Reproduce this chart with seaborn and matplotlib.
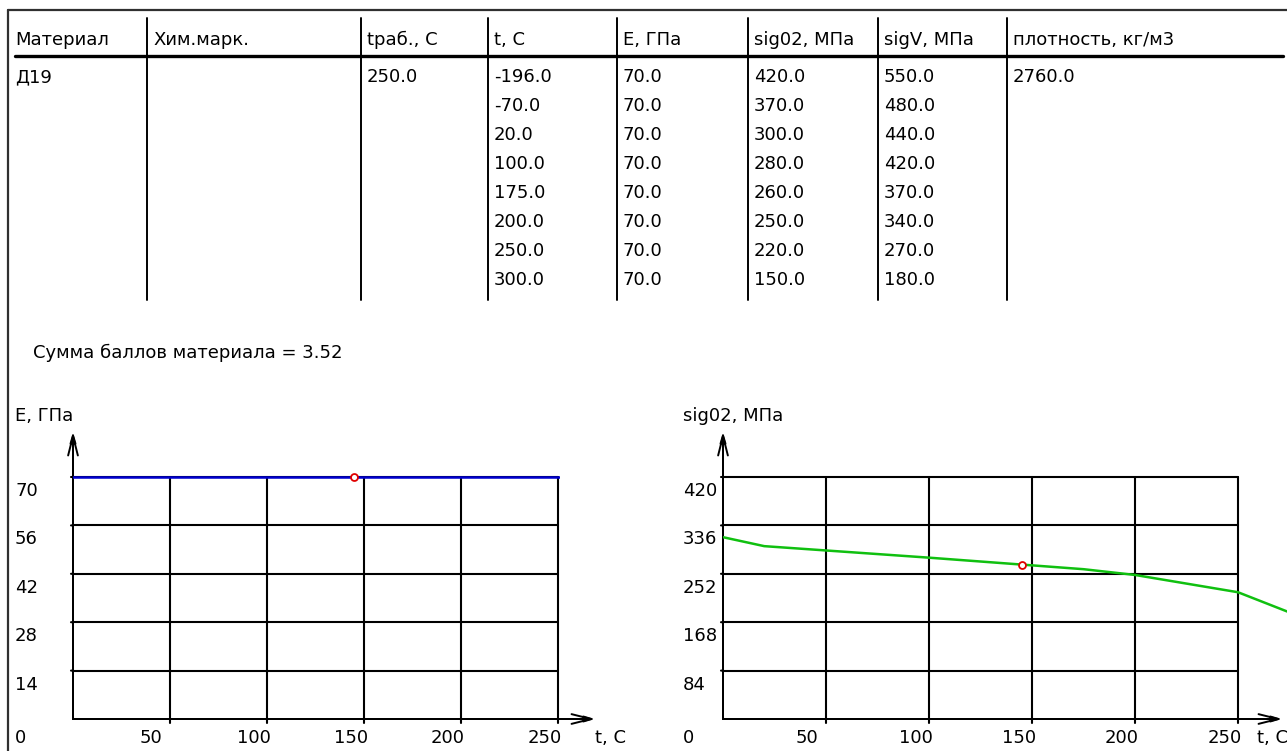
import matplotlib
matplotlib.use('Agg')
import matplotlib.pyplot as plt
import seaborn as sns
from matplotlib.transforms import ScaledTranslation, Bbox, TransformedBbox

# material card
material = 'Д19'
chem_mark = ''
t_work = 250.0
density = 2760.0
score = 3.52
headers = ['Материал', 'Хим.марк.', 'tраб., С', 't, С', 'E, ГПа',
           'sig02, МПа', 'sigV, МПа', 'плотность, кг/м3']
temps = [-196.0, -70.0, 20.0, 100.0, 175.0, 200.0, 250.0, 300.0]
E_gpa = [70.0, 70.0, 70.0, 70.0, 70.0, 70.0, 70.0, 70.0]
sig02 = [420.0, 370.0, 300.0, 280.0, 260.0, 250.0, 220.0, 150.0]
sigV = [550.0, 480.0, 440.0, 420.0, 370.0, 340.0, 270.0, 180.0]

# current point (red circle) and chart scales
cur_t = 145
cur_E = 70
cur_sig02 = 268
x_ticks = [50, 100, 150, 200, 250]
E_ticks = [14, 28, 42, 56, 70]
sig_ticks = [84, 168, 252, 336, 420]

sns.set_style('white')
plt.rcParams['font.family'] = ['DejaVu Sans']
plt.rcParams['text.color'] = 'black'
FS = 13

W, H = 1287, 751
fig = plt.figure(figsize=(W / 100, H / 100), dpi=100)

# background axes in pixel coords for the table
bg = fig.add_axes([0, 0, 1, 1])
bg.set_xlim(0, W)
bg.set_ylim(H, 0)
bg.axis('off')

bg.plot([8, W], [10, 10], color='#303030', lw=1.6)
bg.plot([8, 8], [10, H], color='#303030', lw=1.6)
bg.plot([15, 1283], [56, 56], color='black', lw=2.4)

seps = [147, 361, 488, 617, 748, 878, 1007]
for x in seps:
    bg.plot([x, x], [18, 300], color='black', lw=1.4)
col_x = [15] + [x + 6 for x in seps]
for x, h in zip(col_x, headers):
    bg.text(x, 40, h, fontsize=FS, va='center', ha='left')

row_y = [77 + 29 * i for i in range(len(temps))]
bg.text(col_x[0], row_y[0], material, fontsize=FS, va='center')
bg.text(col_x[1], row_y[0], chem_mark, fontsize=FS, va='center')
bg.text(col_x[2], row_y[0], f'{t_work:.1f}', fontsize=FS, va='center')
bg.text(col_x[7], row_y[0], f'{density:.1f}', fontsize=FS, va='center')
for i, y in enumerate(row_y):
    bg.text(col_x[3], y, f'{temps[i]:.1f}', fontsize=FS, va='center')
    bg.text(col_x[4], y, f'{E_gpa[i]:.1f}', fontsize=FS, va='center')
    bg.text(col_x[5], y, f'{sig02[i]:.1f}', fontsize=FS, va='center')
    bg.text(col_x[6], y, f'{sigV[i]:.1f}', fontsize=FS, va='center')

bg.text(33, 353, f'Сумма баллов материала = {score}', fontsize=FS, va='center')


def off(ax, dx, dy):
    # pixel offset (dy positive = down)
    return ax.transData + ScaledTranslation(dx / 100, -dy / 100, fig.dpi_scale_trans)


def chart(rect, vals, ticks, title, color, cur_val, lab_dx, arrow_dx, tlabel_dx, clip_right):
    ax = fig.add_axes(rect)
    ymax = ticks[-1]
    ax.set_xlim(0, 250)
    ax.set_ylim(0, ymax)
    ax.axis('off')

    # grid (small overshoot past the axes, like the original)
    for v in ticks:
        ax.plot([0, 250], [v, v], color='black', lw=1.5, clip_on=False, zorder=2)
        ax.plot([0, 0], [v, v], color='black', lw=1.5, clip_on=False, zorder=2)
        ax.annotate('', xy=(0, v), xytext=(-2, 0), textcoords='offset pixels',
                    arrowprops=dict(arrowstyle='-', lw=1.5, color='black',
                                    shrinkA=0, shrinkB=0), annotation_clip=False)
    for t in x_ticks:
        ax.plot([t, t], [0, ymax], color='black', lw=1.5, clip_on=False, zorder=2)
        ax.annotate('', xy=(t, 0), xytext=(0, -4), textcoords='offset pixels',
                    arrowprops=dict(arrowstyle='-', lw=1.5, color='black',
                                    shrinkA=0, shrinkB=0), annotation_clip=False)

    # axes with arrows
    for tip, start in [((0, ymax), (0, 0)), ((250, 0), (0, 0))]:
        tr = off(ax, 0, -45) if tip[0] == 0 else off(ax, arrow_dx, 0)
        ax.annotate('', xy=tip, xycoords=tr, xytext=start, textcoords='data',
                    arrowprops=dict(arrowstyle='->,head_length=1.4,head_width=0.35',
                                    lw=1.4, color='black', shrinkA=0, shrinkB=0,
                                    mutation_scale=10), annotation_clip=False)
        ax.annotate('', xy=tip, xycoords=tr, xytext=start, textcoords='data',
                    arrowprops=dict(arrowstyle='-|>,head_length=0.6,head_width=0.18',
                                    lw=1.4, color='black', shrinkA=0, shrinkB=0,
                                    mutation_scale=10), annotation_clip=False)

    # data curve
    sns.lineplot(x=temps, y=vals, ax=ax, color=color, lw=1.8, zorder=3, legend=False)
    line = ax.lines[-1]
    line.set_clip_box(TransformedBbox(Bbox([[0, -0.05], [clip_right, 1.02]]), ax.transAxes))
    ax.plot([cur_t], [cur_val], 'o', ms=5, mfc='white', mec='#e00000', mew=1.3,
            zorder=5, clip_on=False)

    # labels
    for t in x_ticks:
        ax.text(t, 0, str(t), transform=off(ax, -30, 19), ha='left', va='center', fontsize=FS)
    ax.text(0, 0, '0', transform=off(ax, lab_dx, 19), ha='left', va='center', fontsize=FS)
    for v in ticks:
        ax.text(0, v, str(v), transform=off(ax, lab_dx, 14), ha='left', va='center', fontsize=FS)
    ax.text(0, ymax, title, transform=off(ax, lab_dx, -61), ha='left', va='center', fontsize=FS)
    ax.text(250, 0, 't, С', transform=off(ax, tlabel_dx, 19), ha='left', va='center', fontsize=FS)
    return ax


bottom = (H - 719) / H
height = 242 / H
chart([73 / W, bottom, 485 / W, height], E_gpa, E_ticks, 'E, ГПа', '#0000d0',
      cur_E, -58, 37, 37, 1.005)
chart([723 / W, bottom, 515 / W, height], sig02, sig_ticks, 'sig02, МПа', '#10c010',
      cur_sig02, -40, 44, 19, 3.0)

fig.savefig('out.png', dpi=100)
